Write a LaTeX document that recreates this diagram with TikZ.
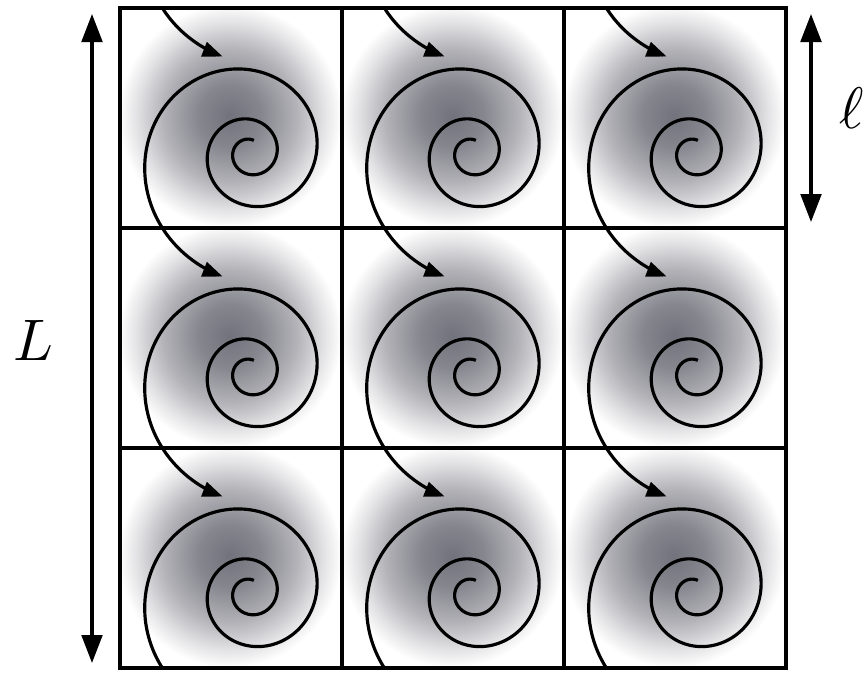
\documentclass[tikz,border=0pt]{standalone}
\usepackage{tikz}
\usetikzlibrary{arrows.meta}
\definecolor{vortexc}{RGB}{114,114,124}
\pgfdeclareradialshading{vortex}{\pgfpointorigin}{color(0bp)=(vortexc);
  color(7bp)=(vortexc!86!white); color(15bp)=(vortexc!54!white);
  color(21bp)=(vortexc!20!white); color(25bp)=(white); color(50bp)=(white)}
\tikzset{
  cellline/.style={line width=2.8pt, line cap=rect},
  spiral/.style={line width=2.7pt, -{Triangle[length=0.6cm,width=0.45cm]}},
  dimarrow/.style={line width=2.7pt,
    {Triangle[length=0.84cm,width=0.62cm]}-{Triangle[length=0.84cm,width=0.62cm]}},
  biglabel/.style={scale=5, inner sep=0pt},
}

\begin{document}
\begin{tikzpicture}[x=0.03cm, y=-0.03cm]
\useasboundingbox (0,0) rectangle (867,673);
% vortices, clipped to the box
\begin{scope}
  \clip (120,8) rectangle (786,668);
  \foreach \i in {0,1,2}{
    \foreach \j in {0,1,2}
      \shade[shading=vortex]
        ({230+222*\i},{116+220*\j}) circle[radius=3.35cm];
  }
  \foreach \i in {0,1,2}{
    \foreach \j in {-1,0,1,2}
      \draw[spiral, shift={({250+222*\i},{153+220*\j})},
            domain=73:977.5, samples=400, smooth, variable=\t]
        plot ({17.2*exp(0.002506*(\t-180))*cos(\t)},
              {-17.2*exp(0.002506*(\t-180))*sin(\t)});
  }
\end{scope}
% cells
\draw[cellline] (120,8) rectangle (786,668);
\foreach \x in {342,564} \draw[cellline] (\x,8) -- (\x,668);
\foreach \y in {228,448} \draw[cellline] (120,\y) -- (786,\y);

% sizes
\coordinate (Ltop) at (92,14);
\coordinate (Lbot) at (92,663);
\draw[dimarrow] (Ltop) -- (Lbot);
\node[biglabel] (Llab) at (33,340) {$L$};
\coordinate (ltop) at (811,14);
\coordinate (lbot) at (811,222);
\draw[dimarrow] (ltop) -- (lbot);
\node[biglabel] (ell) at (852,108) {$\ell$};
\end{tikzpicture}
\end{document}
